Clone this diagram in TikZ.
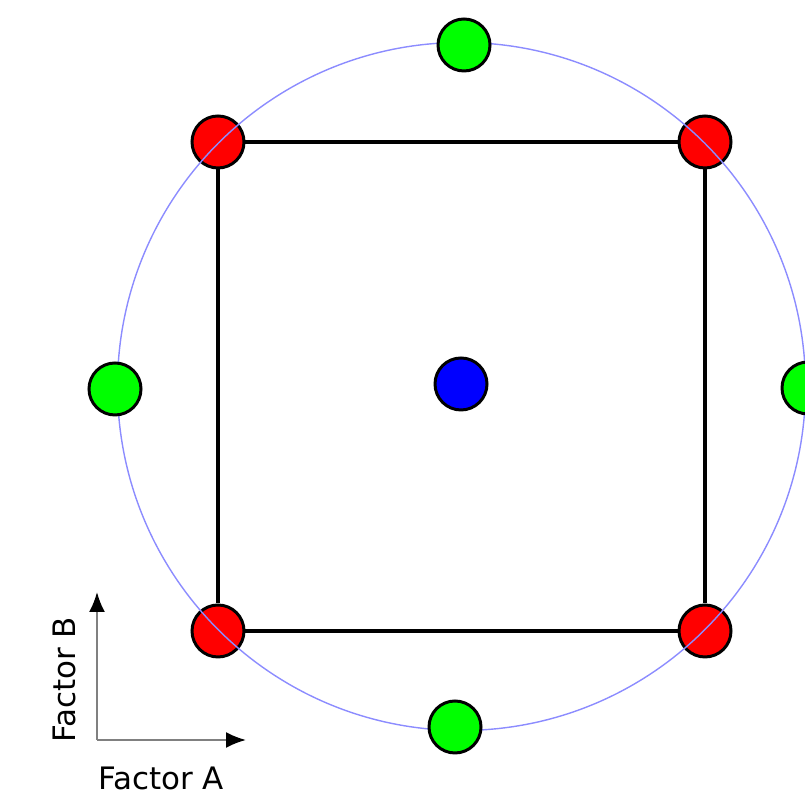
\documentclass[tikz,border=0pt]{standalone}
\usepackage{fontspec}
\setmainfont{DejaVu Sans}
\usetikzlibrary{arrows.meta,backgrounds}

\begin{document}
\begin{tikzpicture}[
    dot/.style={circle,draw=black,line width=0.85pt,minimum size=0.52cm,inner sep=0pt},
    corner/.style={dot,fill=red},
    axial/.style={dot,fill=green},
    centre/.style={dot,fill=blue},
    edge/.style={line width=1pt,black},
    ring/.style={blue!45,line width=0.4pt},
    axis/.style={gray,line width=0.6pt,-{Latex[black,length=0.2cm,width=0.16cm]}},
    lab/.style={font=\fontsize{8.8pt}{10pt}\selectfont,inner sep=0pt}
]
    \useasboundingbox (0,0) rectangle (8.05,7.97);

    % factorial corners
    \node[corner] (c1) at (2.18,6.55) {};
    \node[corner] (c2) at (7.05,6.55) {};
    \node[corner] (c3) at (2.18,1.66) {};
    \node[corner] (c4) at (7.05,1.66) {};

    \begin{scope}[on background layer]
        \draw[edge] (c1) -- (c2) -- (c4) -- (c3) -- (c1);
    \end{scope}

    % circle through the corners
    \coordinate (mid) at (4.615,4.105);
    \draw[ring] (mid) circle (3.44);

    % axial (star) points
    \node[axial] (s1) at (4.64,7.52) {};
    \node[axial] (s2) at (4.55,0.70) {};
    \node[axial] (s3) at (1.15,4.08) {};
    \node[axial] (s4) at (8.08,4.09) {};

    % centre point
    \node[centre] (c0) at (4.61,4.13) {};

    % factor axes
    \coordinate (o) at (0.97,0.57);
    \coordinate (ya) at (0.97,2.05);
    \coordinate (xa) at (2.46,0.57);
    \draw[axis] (o) -- (ya);
    \draw[axis] (o) -- (xa);
    \node[lab,rotate=90] (fb) at (0.64,1.17) {Factor B};
    \node[lab] (fa) at (1.61,0.19) {Factor A};
\end{tikzpicture}
\end{document}
